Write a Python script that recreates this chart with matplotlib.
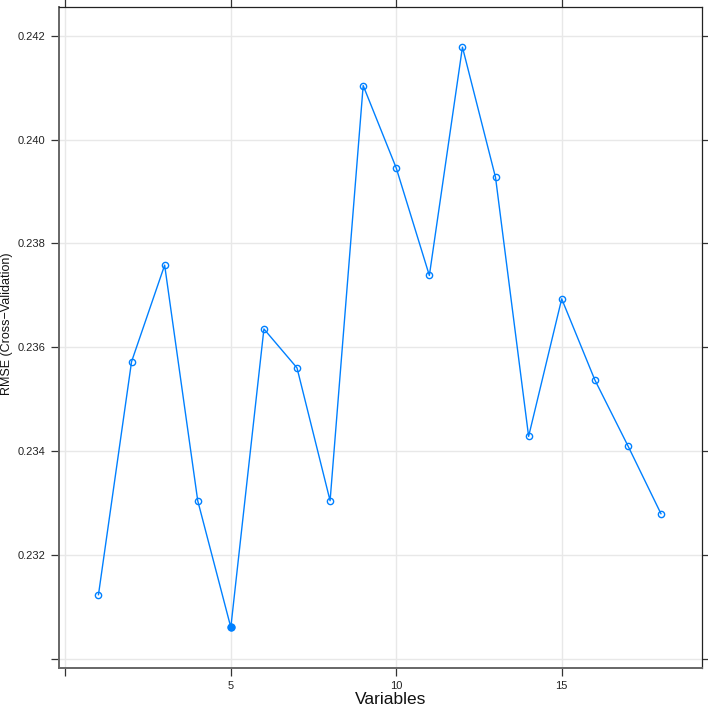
import matplotlib
matplotlib.use("Agg")
import matplotlib.pyplot as plt

variables = list(range(1, 19))
rmse = [0.23123, 0.23572, 0.23758, 0.23304, 0.23060, 0.23635,
        0.23560, 0.23304, 0.24104, 0.23945, 0.23738, 0.24178,
        0.23927, 0.23428, 0.23693, 0.23537, 0.23410, 0.23279]
best_index = 4  # 5 variables
x_ticks = [0, 5, 10, 15]
x_tick_labels = ["", "5", "10", "15"]
y_ticks = [0.230, 0.232, 0.234, 0.236, 0.238, 0.240, 0.242]
y_tick_labels = ["", "0.232", "0.234", "0.236", "0.238", "0.240", "0.242"]

plt.rcParams['font.family'] = ['Liberation Sans', 'DejaVu Sans']
color = "#0080ff"

fig = plt.figure(figsize=(7.08, 7.07), dpi=100)
ax = fig.add_axes([59/708, 1-667.5/707, (702-59)/708, (667.5-6.5)/707])

ax.plot(variables, rmse, color=color, lw=1.0, marker='o', markersize=4.5,
        markerfacecolor='none', markeredgecolor=color, markeredgewidth=1.0, zorder=3)
ax.plot([variables[best_index]], [rmse[best_index]], 'o', color=color,
        markersize=5, zorder=4)

ax.set_xlim(-0.193, 19.24)
ax.set_ylim(0.229827, 0.242563)
ax.set_xticks(x_ticks)
ax.set_xticklabels(x_tick_labels)
ax.set_yticks(y_ticks)
ax.set_yticklabels(y_tick_labels)

ax.grid(True, color='#e8e8e8', lw=1.0, zorder=0)
ax.set_axisbelow(True)

ax.tick_params(axis='both', which='both', direction='out', length=6, width=0.9,
               color='#333333', labelsize=8, labelcolor='#222222',
               top=True, right=True, labeltop=False, labelright=False)
ax.tick_params(axis='y', pad=4)
ax.tick_params(axis='x', pad=4)

for side in ['left', 'bottom']:
    ax.spines[side].set_color('#666666')
    ax.spines[side].set_linewidth(1.4)
for side in ['top', 'right']:
    ax.spines[side].set_color('#222222')
    ax.spines[side].set_linewidth(0.9)

ax.set_xlabel("Variables", fontsize=12.5, color='#111111', va='center')
ax.set_ylabel("RMSE (Cross\u2212Validation)", fontsize=9, color='#111111', va='center')
ax.xaxis.set_label_coords((391 - 59) / 643, (667.5 - 699) / 661)
ax.yaxis.set_label_coords((7 - 59) / 643, (667.5 - 324) / 661)

fig.savefig("out.png", dpi=100)
